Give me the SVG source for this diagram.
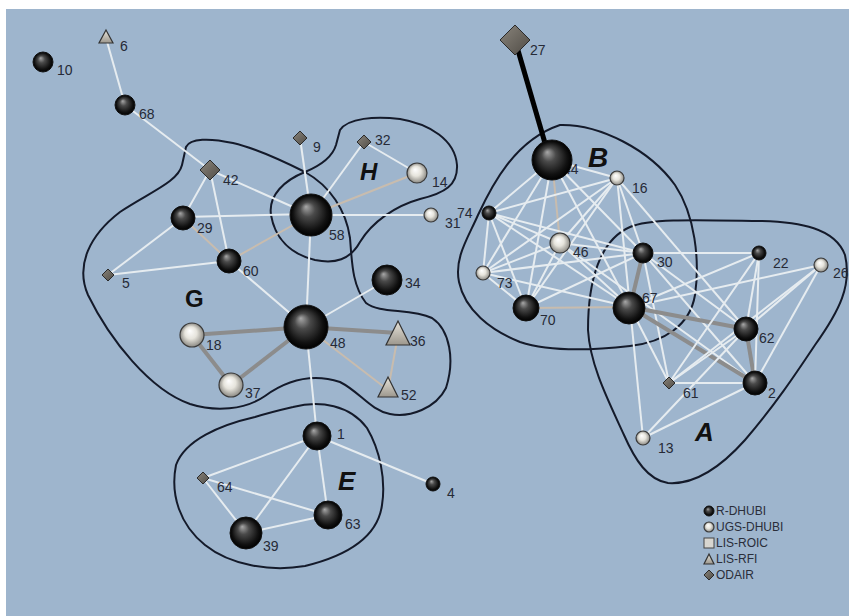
<svg xmlns="http://www.w3.org/2000/svg" width="849" height="616" viewBox="0 0 849 616">
<defs>
<radialGradient id="gBlack" cx="0.5" cy="0.5" r="0.5" fx="0.38" fy="0.3">
<stop offset="0" stop-color="#a8a8a8"/>
<stop offset="0.35" stop-color="#4a4a4a"/>
<stop offset="0.8" stop-color="#111"/>
<stop offset="1" stop-color="#000"/>
</radialGradient>
<radialGradient id="gWhite" cx="0.5" cy="0.5" r="0.5" fx="0.4" fy="0.32">
<stop offset="0" stop-color="#ffffff"/>
<stop offset="0.5" stop-color="#e6e4dc"/>
<stop offset="1" stop-color="#8c8a84"/>
</radialGradient>
<linearGradient id="gTri" x1="0" y1="0" x2="0" y2="1">
<stop offset="0" stop-color="#e8e4da"/>
<stop offset="1" stop-color="#9c978d"/>
</linearGradient>
<linearGradient id="gDia" x1="0" y1="0" x2="1" y2="1">
<stop offset="0" stop-color="#8a857c"/>
<stop offset="1" stop-color="#4f4b45"/>
</linearGradient>
</defs>
<style>
.bg{fill:#9eb5cd}
.hull{fill:none;stroke:#141a2a;stroke-width:2}
.w{stroke:#e6ecf0;stroke-width:2;fill:none}
.t{stroke:#c8bcae;stroke-width:2;fill:none}
.g{stroke:#8c8c8c;stroke-width:4;fill:none}
.k{stroke:#000;stroke-width:5;fill:none}
.bs{fill:url(#gBlack);stroke:#111;stroke-width:1}
.ws{fill:url(#gWhite);stroke:#3a3a3a;stroke-width:1.2}
.tri{fill:url(#gTri);stroke:#333;stroke-width:1.2}
.dia{fill:url(#gDia);stroke:#2a2a2a;stroke-width:1}
.lbl{font-family:"Liberation Sans",Arial,sans-serif;font-size:14px;fill:#262a36}
.big{font-family:"Liberation Sans",Arial,sans-serif;fill:#111;font-weight:bold}
.leg{font-family:"Liberation Sans",Arial,sans-serif;font-size:12px;fill:#2a2e3a}
</style>
<rect x="0" y="0" width="849" height="616" fill="#ffffff"/>
<rect class="bg" x="6" y="9" width="843" height="607"/>

<g id="hulls">
<path id="hull-G" class="hull" d="M186,147 C190,138 210,138 233,143 C255,148 285,162 305,172 C330,186 346,210 350,238 C352,262 352,285 366,303 C380,314 410,308 432,318 C450,330 455,360 446,388 C436,408 410,418 390,414 C370,410 360,392 340,382 C315,374 290,378 265,396 C245,410 215,412 190,404 C150,390 110,340 88,295 C75,265 90,235 120,212 C150,192 178,182 182,165 Z"/>
<path id="hull-H" class="hull" d="M340,130 C348,118 375,116 400,119 C430,124 455,140 457,165 C458,185 445,193 420,199 C395,206 372,222 360,242 C350,260 335,264 315,260 C290,254 275,238 271,215 C268,195 285,180 305,172 C322,165 333,155 336,145 Z"/>
<path id="hull-E" class="hull" d="M293,407 C320,400 350,405 367,428 C380,450 386,480 382,505 C378,535 350,555 305,566 C270,572 230,565 205,545 C180,525 170,495 176,465 C185,440 220,425 255,417 C268,413 280,410 293,407 Z"/>
<path id="hull-B" class="hull" d="M560,125 C600,124 650,150 675,185 C695,215 700,260 695,295 C690,325 665,342 630,346 C595,350 550,352 520,342 C490,330 465,310 459,282 C454,258 468,238 478,215 C492,185 515,140 560,125 Z"/>
<path id="hull-A" class="hull" d="M630,227 C650,218 700,220 760,221 C800,222 835,228 845,255 C852,285 840,310 815,345 C795,375 775,405 745,440 C720,468 695,485 668,483 C648,480 635,460 624,435 C608,400 590,365 588,330 C588,280 600,240 630,227 Z"/>
</g>

<g id="connectors">
<line class="w" x1="106" y1="38" x2="125" y2="105"/>
<line class="w" x1="125" y1="105" x2="210" y2="170"/>
<line class="w" x1="210" y1="170" x2="183" y2="218"/>
<line class="w" x1="210" y1="170" x2="229" y2="261"/>
<line class="w" x1="210" y1="170" x2="311" y2="215"/>
<line class="w" x1="183" y1="218" x2="108" y2="275"/>
<line class="w" x1="108" y1="275" x2="229" y2="261"/>
<line class="w" x1="183" y1="217" x2="311" y2="214"/>
<line class="t" x1="183" y1="218" x2="229" y2="261"/>
<line class="t" x1="229" y1="261" x2="311" y2="215"/>
<line class="w" x1="229" y1="261" x2="306" y2="327"/>
<line class="w" x1="311" y1="215" x2="306" y2="327"/>
<line class="w" x1="311" y1="215" x2="300" y2="138"/>
<line class="w" x1="311" y1="215" x2="364" y2="142"/>
<line class="t" x1="311" y1="215" x2="417" y2="173"/>
<line class="w" x1="364" y1="142" x2="417" y2="173"/>
<line class="w" x1="311" y1="215" x2="431" y2="215"/>
<line class="w" x1="306" y1="327" x2="387" y2="280"/>
<line class="g" x1="306" y1="327" x2="192" y2="335"/>
<line class="g" x1="306" y1="327" x2="231" y2="385"/>
<line class="g" x1="192" y1="335" x2="231" y2="385"/>
<line class="g" x1="306" y1="327" x2="398" y2="333"/>
<line class="t" x1="306" y1="327" x2="388" y2="390"/>
<line class="t" x1="398" y1="335" x2="388" y2="390"/>
<line class="w" x1="306" y1="327" x2="317" y2="436"/>
<line class="w" x1="317" y1="436" x2="203" y2="478"/>
<line class="w" x1="317" y1="436" x2="246" y2="533"/>
<line class="w" x1="317" y1="436" x2="328" y2="515"/>
<line class="w" x1="317" y1="436" x2="433" y2="484"/>
<line class="w" x1="203" y1="478" x2="328" y2="515"/>
<line class="w" x1="203" y1="478" x2="246" y2="533"/>
<line class="w" x1="246" y1="533" x2="328" y2="515"/>

<line class="k" x1="515" y1="40" x2="547" y2="150"/>
<line class="t" x1="552" y1="160" x2="560" y2="243"/>
<line class="w" x1="552" y1="160" x2="617" y2="178"/>
<line class="w" x1="552" y1="160" x2="489" y2="213"/>
<line class="w" x1="552" y1="160" x2="483" y2="273"/>
<line class="w" x1="552" y1="160" x2="526" y2="308"/>
<line class="w" x1="552" y1="160" x2="643" y2="253"/>
<line class="w" x1="552" y1="160" x2="630" y2="307"/>
<line class="w" x1="617" y1="178" x2="489" y2="213"/>
<line class="w" x1="617" y1="178" x2="560" y2="243"/>
<line class="w" x1="617" y1="178" x2="483" y2="273"/>
<line class="w" x1="617" y1="178" x2="526" y2="308"/>
<line class="w" x1="617" y1="178" x2="643" y2="253"/>
<line class="w" x1="617" y1="178" x2="630" y2="307"/>
<line class="w" x1="617" y1="178" x2="746" y2="329"/>
<line class="w" x1="489" y1="213" x2="560" y2="243"/>
<line class="w" x1="489" y1="213" x2="483" y2="273"/>
<line class="w" x1="489" y1="213" x2="526" y2="308"/>
<line class="w" x1="489" y1="213" x2="643" y2="253"/>
<line class="w" x1="489" y1="213" x2="630" y2="307"/>
<line class="w" x1="560" y1="243" x2="483" y2="273"/>
<line class="w" x1="560" y1="243" x2="526" y2="308"/>
<line class="w" x1="560" y1="243" x2="643" y2="253"/>
<line class="w" x1="560" y1="243" x2="630" y2="307"/>
<line class="w" x1="560" y1="243" x2="755" y2="383"/>
<line class="w" x1="483" y1="273" x2="526" y2="308"/>
<line class="w" x1="483" y1="273" x2="643" y2="253"/>
<line class="w" x1="483" y1="273" x2="630" y2="307"/>
<line class="w" x1="526" y1="308" x2="643" y2="253"/>
<line class="t" x1="526" y1="308" x2="630" y2="307"/>
<line class="g" x1="643" y1="253" x2="630" y2="307"/>
<line class="w" x1="643" y1="253" x2="759" y2="253"/>
<line class="w" x1="643" y1="253" x2="746" y2="329"/>
<line class="w" x1="643" y1="253" x2="755" y2="383"/>
<line class="w" x1="643" y1="253" x2="669" y2="383"/>
<line class="w" x1="630" y1="307" x2="759" y2="253"/>
<line class="w" x1="630" y1="307" x2="821" y2="265"/>
<line class="w" x1="630" y1="307" x2="669" y2="383"/>
<line class="w" x1="630" y1="307" x2="643" y2="438"/>
<line class="g" x1="630" y1="307" x2="746" y2="329"/>
<line class="g" x1="630" y1="307" x2="755" y2="383"/>
<line class="g" x1="746" y1="329" x2="755" y2="383"/>
<line class="w" x1="759" y1="253" x2="746" y2="329"/>
<line class="w" x1="759" y1="253" x2="755" y2="383"/>
<line class="w" x1="759" y1="253" x2="669" y2="383"/>
<line class="w" x1="821" y1="265" x2="746" y2="329"/>
<line class="w" x1="821" y1="265" x2="755" y2="383"/>
<line class="w" x1="821" y1="265" x2="669" y2="383"/>
<line class="w" x1="746" y1="329" x2="669" y2="383"/>
<line class="w" x1="746" y1="329" x2="643" y2="438"/>
<line class="w" x1="669" y1="383" x2="755" y2="383"/>
<line class="w" x1="755" y1="383" x2="643" y2="438"/>
</g>

<g id="n10"><text class="lbl" x="57" y="75">10</text><circle class="bs" cx="43" cy="62" r="10"/></g>
<g id="n6"><text class="lbl" x="120" y="51">6</text><polygon class="tri" points="106,30 113,43 99,43"/></g>
<g id="n68"><text class="lbl" x="139" y="119">68</text><circle class="bs" cx="125" cy="105" r="10"/></g>
<g id="n42"><text class="lbl" x="223" y="185">42</text><polygon class="dia" points="210,160 220,170 210,180 200,170"/></g>
<g id="n9"><text class="lbl" x="313" y="152">9</text><polygon class="dia" points="300,131 307,138 300,145 293,138"/></g>
<g id="n32"><text class="lbl" x="375" y="145">32</text><polygon class="dia" points="364,135 371,142 364,149 357,142"/></g>
<g id="n14"><text class="lbl" x="432" y="187">14</text><circle class="ws" cx="417" cy="173" r="10"/></g>
<g id="n58"><text class="lbl" x="329" y="240">58</text><circle class="bs" cx="311" cy="215" r="21"/></g>
<g id="n31"><text class="lbl" x="445" y="228">31</text><circle class="ws" cx="431" cy="215" r="7"/></g>
<g id="n74"><text class="lbl" x="457" y="218">74</text><circle class="bs" cx="489" cy="213" r="7"/></g>
<g id="n29"><text class="lbl" x="197" y="233">29</text><circle class="bs" cx="183" cy="218" r="12"/></g>
<g id="n60"><text class="lbl" x="243" y="276">60</text><circle class="bs" cx="229" cy="261" r="12"/></g>
<g id="n5"><text class="lbl" x="122" y="288">5</text><polygon class="dia" points="108,269 114,275 108,281 102,275"/></g>
<g id="n18"><text class="lbl" x="206" y="350">18</text><circle class="ws" cx="192" cy="335" r="12"/></g>
<g id="n37"><text class="lbl" x="245" y="398">37</text><circle class="ws" cx="231" cy="385" r="12"/></g>
<g id="n34"><text class="lbl" x="405" y="288">34</text><circle class="bs" cx="387" cy="280" r="15"/></g>
<g id="n48"><text class="lbl" x="330" y="348">48</text><circle class="bs" cx="306" cy="327" r="22"/></g>
<g id="n36"><text class="lbl" x="410" y="346">36</text><polygon class="tri" points="398,321 410,345 386,345"/></g>
<g id="n52"><text class="lbl" x="401" y="400">52</text><polygon class="tri" points="388,377 398,397 378,397"/></g>
<g id="n1"><text class="lbl" x="337" y="439">1</text><circle class="bs" cx="317" cy="436" r="14"/></g>
<g id="n64"><text class="lbl" x="217" y="492">64</text><polygon class="dia" points="203,472 209,478 203,484 197,478"/></g>
<g id="n4"><text class="lbl" x="447" y="498">4</text><circle class="bs" cx="433" cy="484" r="7"/></g>
<g id="n63"><text class="lbl" x="345" y="529">63</text><circle class="bs" cx="328" cy="515" r="14"/></g>
<g id="n39"><text class="lbl" x="263" y="551">39</text><circle class="bs" cx="246" cy="533" r="16"/></g>
<g id="n27"><text class="lbl" x="530" y="55">27</text><polygon class="dia" points="515,25 530,40 515,55 500,40"/></g>
<g id="n44"><text class="lbl" x="563" y="174">44</text><circle class="bs" cx="552" cy="160" r="20"/></g>
<g id="n16"><text class="lbl" x="632" y="193">16</text><circle class="ws" cx="617" cy="178" r="7"/></g>
<g id="n46"><text class="lbl" x="573" y="257">46</text><circle class="ws" cx="560" cy="243" r="10"/></g>
<g id="n73"><text class="lbl" x="497" y="288">73</text><circle class="ws" cx="483" cy="273" r="7"/></g>
<g id="n70"><text class="lbl" x="540" y="325">70</text><circle class="bs" cx="526" cy="308" r="13"/></g>
<g id="n30"><text class="lbl" x="657" y="267">30</text><circle class="bs" cx="643" cy="253" r="10"/></g>
<g id="n67"><text class="lbl" x="642" y="303">67</text><circle class="bs" cx="629" cy="308" r="16"/></g>
<g id="n22"><text class="lbl" x="773" y="268">22</text><circle class="bs" cx="759" cy="253" r="7"/></g>
<g id="n26"><text class="lbl" x="833" y="278">26</text><circle class="ws" cx="821" cy="265" r="7"/></g>
<g id="n62"><text class="lbl" x="759" y="343">62</text><circle class="bs" cx="746" cy="329" r="12"/></g>
<g id="n61"><text class="lbl" x="683" y="398">61</text><polygon class="dia" points="669,377 675,383 669,389 663,383"/></g>
<g id="n2"><text class="lbl" x="768" y="398">2</text><circle class="bs" cx="755" cy="383" r="12"/></g>
<g id="n13"><text class="lbl" x="658" y="453">13</text><circle class="ws" cx="643" cy="438" r="7"/></g>

<g id="cluster-labels">
<text class="big" x="360" y="180" font-size="24" font-style="italic">H</text>
<text class="big" x="185" y="307" font-size="24" font-weight="normal">G</text>
<text class="big" x="338" y="490" font-size="26" font-style="italic">E</text>
<text class="big" x="588" y="167" font-size="28" font-style="italic">B</text>
<text class="big" x="695" y="441" font-size="26" font-style="italic">A</text>
</g>

<g id="legend">
<circle class="bs" cx="709" cy="511" r="5"/><text class="leg" x="716" y="515">R-DHUBI</text>
<circle class="ws" cx="709" cy="527" r="5"/><text class="leg" x="716" y="531">UGS-DHUBI</text>
<rect x="704" y="538" width="10" height="10" fill="#d8d6d0" stroke="#444" stroke-width="1"/><text class="leg" x="716" y="547">LIS-ROIC</text>
<polygon class="tri" points="709,554 714,564 704,564"/><text class="leg" x="716" y="563">LIS-RFI</text>
<polygon class="dia" points="709,570 714,575 709,580 704,575"/><text class="leg" x="716" y="579">ODAIR</text>
</g>
</svg>
